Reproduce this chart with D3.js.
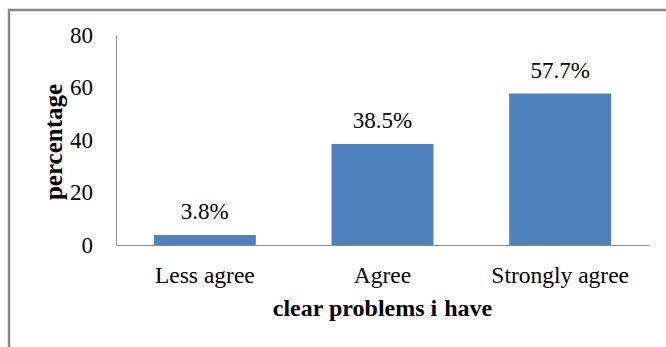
<!DOCTYPE html>
<html>
<head>
<meta charset="utf-8">
<script src="https://d3js.org/d3.v7.min.js"></script>
<style>
  body { margin: 0; background: #fff; }
</style>
</head>
<body>
<div id="chart"></div>
<script>
// data
var categories = ["Less agree", "Agree", "Strongly agree"];
var values = [3.8, 38.5, 57.7];
var valueLabels = ["3.8%", "38.5%", "57.7%"];
var yTicks = [0, 20, 40, 60, 80];

var W = 666, H = 347;
var margin = {top: 35, right: 17, bottom: 102, left: 116};
var serif = "'Liberation Serif', 'Times New Roman', serif";

var svg = d3.select("#chart")
  .append("svg")
    .attr("width", W)
    .attr("height", H)
    .style("font-family", serif);

// outer frame, cut off at right and bottom
svg.append("rect")
  .attr("x", 9)
  .attr("y", 10)
  .attr("width", W)
  .attr("height", H)
  .style("fill", "none")
  .style("stroke", "#888")
  .style("stroke-width", 2.5);

var x = d3.scaleBand()
  .domain(categories)
  .range([margin.left, W - margin.right])
  .paddingInner(0.426)
  .paddingOuter(0.213);

var y = d3.scaleLinear()
  .domain([0, 80])
  .range([H - margin.bottom, margin.top]);

// bars
svg.append("g")
  .selectAll("rect")
  .data(values)
  .enter()
  .append("rect")
    .attr("x", function(d, i) { return x(categories[i]); })
    .attr("y", function(d) { return y(d); })
    .attr("width", x.bandwidth())
    .attr("height", function(d) { return y(0) - y(d); })
    .style("fill", "#4f81bd");

// value labels
svg.append("g")
  .selectAll("text")
  .data(values)
  .enter()
  .append("text")
    .attr("x", function(d, i) { return x(categories[i]) + x.bandwidth() / 2; })
    .attr("y", function(d) { return y(d) - 16; })
    .attr("text-anchor", "middle")
    .style("font-family", serif)
    .style("font-size", "23px")
    .style("fill", "#000")
    .text(function(d, i) { return valueLabels[i]; });

// y axis
var yAxis = svg.append("g")
  .attr("transform", "translate(" + margin.left + ",0)")
  .call(d3.axisLeft(y).tickValues(yTicks).tickSize(0).tickPadding(23));
yAxis.attr("font-family", null).attr("font-size", null);
yAxis.select(".domain").attr("stroke", "#8c8c8c");
yAxis.selectAll("text")
  .style("font-family", serif)
  .style("font-size", "23px")
  .attr("fill", "#000");

// x axis
var xAxis = svg.append("g")
  .attr("transform", "translate(0," + y(0) + ")")
  .call(d3.axisBottom(x).tickSize(0).tickPadding(21));
xAxis.attr("font-family", null).attr("font-size", null);
xAxis.select(".domain").attr("stroke", "#8c8c8c");
xAxis.selectAll("text")
  .style("font-family", serif)
  .style("font-size", "23.5px")
  .attr("fill", "#000");

// axis titles
var xTitle = svg.append("text")
  .attr("x", (margin.left + W - margin.right) / 2)
  .attr("y", 316)
  .attr("text-anchor", "middle")
  .style("font-family", serif)
  .style("font-size", "24px")
  .style("font-weight", "bold");
xTitle.append("tspan").text("clear problems i");
xTitle.append("tspan").attr("dx", 7).text("have");

svg.append("text")
  .attr("transform", "translate(62,142) rotate(-90)")
  .attr("text-anchor", "middle")
  .style("font-family", serif)
  .style("font-size", "25px")
  .style("font-weight", "bold")
  .text("percentage");
</script>
</body>
</html>
